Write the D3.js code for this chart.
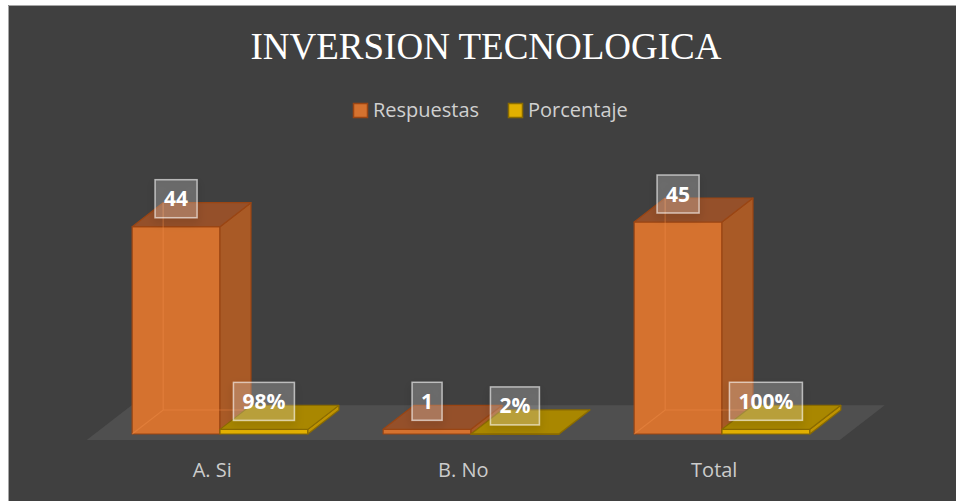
<!DOCTYPE html>
<html>
<head>
<meta charset="utf-8">
<script src="https://cdn.jsdelivr.net/npm/d3@7"></script>
<style>
  html, body { margin: 0; padding: 0; background: #ffffff; }
  #chart { width: 956px; height: 501px; }
</style>
</head>
<body>
<div id="chart"></div>
<script>
const categories = ["A. Si", "B. No", "Total"];
const series = ["Respuestas", "Porcentaje"];
const respuestas = [44, 1, 45];
const porcentaje = [0.98, 0.02, 1.00];

function renderChart() {
  const width = 956;
  const height = 501;

  const svg = d3.select("#chart")
    .append("svg")
    .attr("width", width)
    .attr("height", height);

  const defs = svg.append("defs");
  const shadow = defs.append("filter")
    .attr("id", "box-shadow")
    .attr("x", "-50%").attr("y", "-50%")
    .attr("width", "200%").attr("height", "200%");
  shadow.append("feDropShadow")
    .attr("dx", 0).attr("dy", 4)
    .attr("stdDeviation", 4)
    .attr("flood-color", "#000")
    .attr("flood-opacity", 0.35);

  // chart area + frame
  svg.append("rect")
    .attr("x", 8).attr("y", 5)
    .attr("width", width - 8).attr("height", height - 5)
    .attr("fill", "#404040");
  svg.append("path")
    .attr("d", `M8.5,${height} V5.5 H${width}`)
    .attr("fill", "none")
    .attr("stroke", "#a6a6a6")
    .attr("stroke-width", 1);

  svg.append("text")
    .attr("x", 486)
    .attr("y", 59)
    .attr("text-anchor", "middle")
    .style("font-family", "'Liberation Serif', 'Times New Roman', serif")
    .style("font-size", "37px")
    .style("fill", "#ffffff")
    .text("INVERSION TECNOLOGICA");

  const colors = {
    Respuestas: { front: "#d5722f", side: "#a95a26", top: "#95502a", stroke: "#9a4513", hidden: "rgba(240,140,70,0.45)" },
    Porcentaje: { front: "#e2b000", side: "#bf9300", top: "#a98700", stroke: "#8a6b00", hidden: "rgba(230,190,40,0.35)" }
  };

  // legend
  const legendPos = [353, 508];
  const legend = svg.append("g");
  series.forEach((s, i) => {
    legend.append("rect")
      .attr("x", legendPos[i] + 0.5).attr("y", 103.5)
      .attr("width", 14).attr("height", 14)
      .attr("fill", colors[s].front)
      .attr("stroke", colors[s].stroke)
      .attr("stroke-width", 1.5);
    legend.append("text")
      .attr("x", legendPos[i] + 20)
      .attr("y", 117)
      .style("font-family", "'Open Sans', sans-serif")
      .style("font-size", "20px")
      .style("fill", "#d0d0d0")
      .text(s);
  });

  // scales
  const x0 = d3.scaleBand()
    .domain(categories)
    .range([94.5, 847.5])
    .paddingInner(0.3)
    .paddingOuter(0.15);

  const x1 = d3.scaleBand()
    .domain(series)
    .range([0, x0.bandwidth()]);

  const y = d3.scaleLinear()
    .domain([0, d3.max(respuestas)])
    .range([434, 222]);

  const dx = 31, dy = -24;
  const baseY = y(0);
  const [r0, r1] = x0.range();

  // floor
  const fFront = -0.25, fBack = 1.2;
  svg.append("polygon")
    .attr("points", [
      [r0 + fFront * dx, baseY + fFront * dy],
      [r1 + fFront * dx, baseY + fFront * dy],
      [r1 + fBack * dx, baseY + fBack * dy],
      [r0 + fBack * dx, baseY + fBack * dy]
    ].map(p => p.join(",")).join(" "))
    .attr("fill", "#4f4f4f");

  // category labels (on floor front)
  svg.append("g")
    .selectAll("text")
    .data(categories)
    .join("text")
    .attr("x", d => x0(d) - x0.step() * x0.paddingInner() / 2 + x0.step() / 2 + fFront * dx)
    .attr("y", 477)
    .attr("text-anchor", "middle")
    .style("font-family", "'Open Sans', sans-serif")
    .style("font-size", "20px")
    .style("fill", "#cccccc")
    .text(d => d);

  const bars = [];
  categories.forEach((c, i) => {
    bars.push({ cat: c, key: "Respuestas", value: respuestas[i], label: String(respuestas[i]) });
    bars.push({ cat: c, key: "Porcentaje", value: porcentaje[i], label: d3.format(".0%")(porcentaje[i]) });
  });

  const barG = svg.append("g");
  bars.forEach(b => {
    const xa = x0(b.cat) + x1(b.key);
    const w = x1.bandwidth();
    const yt = y(b.value);
    const c = colors[b.key];
    const g = barG.append("g");
    const pts = arr => arr.map(p => p.join(",")).join(" ");

    g.append("rect")
      .attr("x", xa).attr("y", yt)
      .attr("width", w).attr("height", Math.max(baseY - yt, 0.5))
      .attr("fill", c.front)
      .attr("stroke", c.stroke).attr("stroke-width", 1.2)
      .attr("stroke-linejoin", "round");
    g.append("polygon")
      .attr("points", pts([[xa + w, yt], [xa + w + dx, yt + dy], [xa + w + dx, baseY + dy], [xa + w, baseY]]))
      .attr("fill", c.side)
      .attr("stroke", c.stroke).attr("stroke-width", 1.2)
      .attr("stroke-linejoin", "round");
    g.append("polygon")
      .attr("points", pts([[xa, yt], [xa + dx, yt + dy], [xa + w + dx, yt + dy], [xa + w, yt]]))
      .attr("fill", c.top)
      .attr("stroke", c.stroke).attr("stroke-width", 1.2)
      .attr("stroke-linejoin", "round");

    // faint hidden edges seen through the translucent bar
    if (baseY - yt > 20) {
      g.append("path")
        .attr("d", `M${xa},${baseY} L${xa + dx},${baseY + dy} L${xa + w + dx},${baseY + dy} M${xa + dx},${baseY + dy} V${yt + dy}`)
        .attr("fill", "none")
        .attr("stroke", c.hidden)
        .attr("stroke-width", 1.2);
    }
  });

  // data labels
  const labelG = svg.append("g");
  bars.forEach(b => {
    const cx = x0(b.cat) + x1(b.key) + x1.bandwidth() / 2;
    const cy = y(b.value) - 28;
    const t = labelG.append("text")
      .attr("x", cx)
      .attr("y", cy + 7.5)
      .attr("text-anchor", "middle")
      .style("font-family", "'Open Sans', sans-serif")
      .style("font-weight", "bold")
      .style("font-size", "21px")
      .style("fill", "#ffffff")
      .text(b.label);
    const tw = t.node().getComputedTextLength();
    labelG.insert("rect", () => t.node())
      .attr("x", cx - tw / 2 - 9)
      .attr("y", cy - 19)
      .attr("width", tw + 18)
      .attr("height", 38)
      .attr("fill", "rgba(255,255,255,0.2)")
      .attr("stroke", "rgba(255,255,255,0.6)")
      .attr("stroke-width", 1.5)
      .attr("filter", "url(#box-shadow)");
  });
}

renderChart();
</script>
</body>
</html>
